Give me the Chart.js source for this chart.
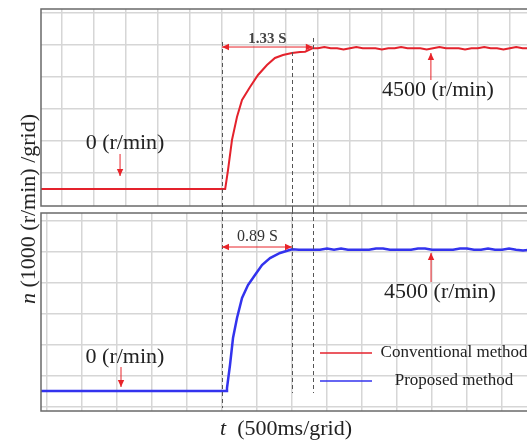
<!DOCTYPE html>
<html lang="en">
<head>
    <meta charset="UTF-8">
    <title>Speed step response</title>
    <script src="https://cdn.jsdelivr.net/npm/chart.js"></script>
    <style>
        html, body {
            margin: 0;
            padding: 0;
            background: #fff;
            overflow: hidden;
        }
        body {
            position: relative;
            width: 527px;
            height: 441px;
            font-family: "Liberation Serif", "Times New Roman", serif;
            color: #222;
        }
        #topChart { position: absolute; left: 0; top: 0; }
        #bottomChart { position: absolute; left: 0; top: 210px; }
        .ytitle {
            position: absolute;
            left: 28px;
            top: 209px;
            transform: translate(-50%, -50%) rotate(-90deg);
            font-size: 22px;
            line-height: 24px;
            white-space: nowrap;
        }
        .xtitle {
            position: absolute;
            left: 220px;
            top: 416px;
            font-size: 22px;
            line-height: 24px;
            white-space: pre;
        }
    </style>
</head>
<body>
    <canvas id="topChart" width="545" height="210"></canvas>
    <canvas id="bottomChart" width="545" height="231"></canvas>
    <div class="ytitle"><i>n</i> (1000 (r/min) /grid)</div>
    <div class="xtitle"><i>t</i>  (500ms/grid)</div>

    <script>
        // time in s (0 = speed command step), speed in r/min
        const seriesNames = ['Conventional method', 'Proposed method'];

        // conventional method (red, top panel)
        const redT = [-3.0, 0.05, 0.094, 0.156, 0.234, 0.313, 0.438, 0.563, 0.703, 0.828,
                      0.953, 1.094, 1.219, 1.30, 1.42,
                      1.5, 1.6, 1.7, 1.8, 1.9, 2.0, 2.1, 2.2, 2.3, 2.4,
                      2.5, 2.6, 2.7, 2.8, 2.9, 3.0, 3.1, 3.2, 3.3, 3.4,
                      3.5, 3.6, 3.7, 3.8, 3.9, 4.0, 4.1, 4.2, 4.3, 4.4,
                      4.5, 4.6, 4.7, 4.8, 4.9, 5.0, 5.1];
        const redV = [0, 0, 594, 1531, 2250, 2781, 3188, 3563, 3875, 4094,
                      4188, 4250, 4281, 4290, 4400,
                      4400, 4440, 4400, 4400, 4360, 4400, 4440, 4400, 4400, 4400,
                      4360, 4400, 4400, 4440, 4400, 4400, 4400, 4360, 4400, 4440,
                      4400, 4400, 4400, 4360, 4400, 4400, 4440, 4400, 4400, 4360,
                      4400, 4440, 4400, 4400, 4360, 4400, 4440];

        // proposed method (blue, bottom panel)
        const blueT = [-3.0, 0.057, 0.071, 0.114, 0.157, 0.214, 0.286, 0.371, 0.471, 0.571,
                       0.686, 0.829, 1.0,
                       1.1, 1.2, 1.3, 1.4, 1.5, 1.6, 1.7, 1.8, 1.9, 2.0,
                       2.1, 2.2, 2.3, 2.4, 2.5, 2.6, 2.7, 2.8, 2.9, 3.0,
                       3.1, 3.2, 3.3, 3.4, 3.5, 3.6, 3.7, 3.8, 3.9, 4.0,
                       4.1, 4.2, 4.3, 4.4, 4.5, 4.6, 4.7, 4.8];
        const blueV = [0, 0, 97, 839, 1710, 2355, 3000, 3419, 3742, 4065,
                       4290, 4452, 4570,
                       4560, 4560, 4560, 4560, 4600, 4560, 4600, 4560, 4560, 4560,
                       4560, 4600, 4600, 4560, 4560, 4560, 4560, 4600, 4600, 4560,
                       4560, 4560, 4560, 4600, 4600, 4560, 4560, 4600, 4560, 4560,
                       4600, 4560, 4530, 4560, 4600, 4560, 4560, 4560];

        // grid lines (500 ms and 1000 r/min per grid)
        const topTimeGrid = [-2.5, -2.0, -1.5, -1.0, -0.5, 0, 0.5, 1.0, 1.5, 2.0, 2.5, 3.0, 3.5, 4.0, 4.5, 5.0];
        const bottomTimeGrid = [-2.5, -2.0, -1.5, -1.0, -0.5, 0, 0.5, 1.0, 1.5, 2.0, 2.5, 3.0, 3.5, 4.0, 4.5];
        const topSpeedGrid = [500, 1500, 2500, 3500, 4500, 5500];
        const bottomSpeedGrid = [-500, 500, 1500, 2500, 3500, 4500, 5500];

        // settling times marked on each panel (s)
        const topMarks = [0, 1.094, 1.42];
        const bottomMarks = [0, 1.0, 1.3];

        const toPoints = (ts, vs) => ts.map((t, i) => ({ x: t, y: vs[i] }));

        function drawArrowHead(ctx, x1, y1, x2, y2) {
            const ang = Math.atan2(y2 - y1, x2 - x1);
            const len = 7, half = 3.2;
            ctx.beginPath();
            ctx.moveTo(x2, y2);
            ctx.lineTo(x2 - len * Math.cos(ang) + half * Math.sin(ang), y2 - len * Math.sin(ang) - half * Math.cos(ang));
            ctx.lineTo(x2 - len * Math.cos(ang) - half * Math.sin(ang), y2 - len * Math.sin(ang) + half * Math.cos(ang));
            ctx.closePath();
            ctx.fill();
        }

        // frame, dashed markers, arrows, labels and legend
        const decorPlugin = {
            id: 'decor',
            afterDatasetsDraw(chart, args, opts) {
                const ctx = chart.ctx;
                const area = chart.chartArea;
                const xs = chart.scales.x, ys = chart.scales.y;
                ctx.save();

                // frame
                ctx.strokeStyle = '#6a6a6a';
                ctx.lineWidth = 1.5;
                ctx.strokeRect(area.left, area.top, area.right - area.left, area.bottom - area.top);

                // dashed vertical markers
                ctx.strokeStyle = '#555';
                ctx.lineWidth = 1;
                ctx.setLineDash([4, 3]);
                opts.dashes.forEach(d => {
                    const x = Math.round(xs.getPixelForValue(d.t)) + 0.5;
                    const y1 = d.from === null ? 0 : ys.getPixelForValue(d.from);
                    const y2 = d.to === null ? chart.height : ys.getPixelForValue(d.to);
                    ctx.beginPath();
                    ctx.moveTo(x, y1);
                    ctx.lineTo(x, y2);
                    ctx.stroke();
                });
                ctx.setLineDash([]);

                // arrows
                ctx.strokeStyle = '#e8242a';
                ctx.fillStyle = '#e8242a';
                ctx.lineWidth = 1;
                opts.arrows.forEach(a => {
                    const x1 = xs.getPixelForValue(a.t1), y1 = ys.getPixelForValue(a.v1);
                    const x2 = xs.getPixelForValue(a.t2), y2 = ys.getPixelForValue(a.v2);
                    ctx.beginPath();
                    ctx.moveTo(x1, y1);
                    ctx.lineTo(x2, y2);
                    ctx.stroke();
                    drawArrowHead(ctx, x1, y1, x2, y2);
                    if (a.both) drawArrowHead(ctx, x2, y2, x1, y1);
                });

                // text labels
                ctx.textAlign = 'center';
                ctx.textBaseline = 'middle';
                opts.texts.forEach(tx => {
                    ctx.font = tx.font;
                    ctx.fillStyle = tx.color;
                    ctx.fillText(tx.text, xs.getPixelForValue(tx.t), ys.getPixelForValue(tx.v));
                });

                // legend
                if (opts.legend) {
                    opts.legend.forEach((item, i) => {
                        const y = area.top + 140 + i * 28;
                        ctx.strokeStyle = item.color;
                        ctx.lineWidth = 1.5;
                        ctx.beginPath();
                        ctx.moveTo(area.left + 279, y);
                        ctx.lineTo(area.left + 331, y);
                        ctx.stroke();
                        ctx.font = '17px "Liberation Serif", serif';
                        ctx.fillStyle = '#222';
                        ctx.fillText(item.label, area.left + 413, y);
                    });
                }
                ctx.restore();
            }
        };

        function panelOptions(xMin, xMax, yMin, yMax, xGrid, yGrid, padding, decor) {
            return {
                responsive: false,
                animation: false,
                layout: { padding: padding, autoPadding: false },
                plugins: {
                    legend: { display: false },
                    tooltip: { enabled: false },
                    decor: decor
                },
                scales: {
                    x: {
                        type: 'linear',
                        min: xMin,
                        max: xMax,
                        ticks: { display: false },
                        border: { display: false },
                        grid: { color: '#d6d6d6', lineWidth: 1.5, drawTicks: false },
                        afterBuildTicks: s => { s.ticks = xGrid.map(v => ({ value: v })); },
                        afterFit: s => { s.height = 0; }
                    },
                    y: {
                        min: yMin,
                        max: yMax,
                        ticks: { display: false },
                        border: { display: false },
                        grid: { color: '#d6d6d6', lineWidth: 1.5, drawTicks: false },
                        afterBuildTicks: s => { s.ticks = yGrid.map(v => ({ value: v })); },
                        afterFit: s => { s.width = 0; }
                    }
                }
            };
        }

        const labelFont = '22px "Liberation Serif", serif';

        // Top panel: conventional method
        const topChart = new Chart(document.getElementById('topChart'), {
            type: 'line',
            data: {
                datasets: [{
                    label: seriesNames[0],
                    data: toPoints(redT, redV),
                    borderColor: '#e4222c',
                    borderWidth: 2,
                    pointRadius: 0,
                    tension: 0
                }]
            },
            options: panelOptions(-2.83, 5.05, -531, 5625, topTimeGrid, topSpeedGrid,
                { left: 41, top: 9, right: 0, bottom: 4 },
                {
                    dashes: [
                        { t: topMarks[0], from: 4594, to: null },
                        { t: topMarks[1], from: 4281, to: null },
                        { t: topMarks[2], from: 4719, to: null }
                    ],
                    arrows: [
                        { t1: topMarks[0], v1: 4437, t2: topMarks[2], v2: 4437, both: true },
                        { t1: -1.594, v1: 1094, t2: -1.594, v2: 406 },
                        { t1: 3.266, v1: 3406, t2: 3.266, v2: 4250 }
                    ],
                    texts: [
                        { text: '1.33 S', t: 0.71, v: 4687, font: 'bold 15px "Liberation Serif", serif', color: '#444' },
                        { text: '0 (r/min)', t: -1.516, v: 1437, font: labelFont, color: '#222' },
                        { text: '4500 (r/min)', t: 3.375, v: 3094, font: labelFont, color: '#222' }
                    ]
                }),
            plugins: [decorPlugin]
        });

        // Bottom panel: proposed method
        const bottomChart = new Chart(document.getElementById('bottomChart'), {
            type: 'line',
            data: {
                datasets: [{
                    label: seriesNames[1],
                    data: toPoints(blueT, blueV),
                    borderColor: '#3333ee',
                    borderWidth: 2.5,
                    pointRadius: 0,
                    tension: 0
                }]
            },
            options: panelOptions(-2.586, 4.614, -645, 5742, bottomTimeGrid, bottomSpeedGrid,
                { left: 41, top: 3, right: 0, bottom: 30 },
                {
                    dashes: [
                        { t: bottomMarks[0], from: null, to: -548 },
                        { t: bottomMarks[1], from: null, to: -65 },
                        { t: bottomMarks[2], from: null, to: -65 }
                    ],
                    arrows: [
                        { t1: bottomMarks[0], v1: 4645, t2: bottomMarks[1], v2: 4645, both: true },
                        { t1: -1.443, v1: 774, t2: -1.443, v2: 129 },
                        { t1: 2.986, v1: 3516, t2: 2.986, v2: 4452 }
                    ],
                    texts: [
                        { text: '0.89 S', t: 0.507, v: 4984, font: '16px "Liberation Serif", serif', color: '#333' },
                        { text: '0 (r/min)', t: -1.386, v: 1097, font: labelFont, color: '#222' },
                        { text: '4500 (r/min)', t: 3.114, v: 3194, font: labelFont, color: '#222' }
                    ],
                    legend: [
                        { label: seriesNames[0], color: '#e4222c' },
                        { label: seriesNames[1], color: '#3333ee' }
                    ]
                }),
            plugins: [decorPlugin]
        });
    </script>
</body>
</html>
